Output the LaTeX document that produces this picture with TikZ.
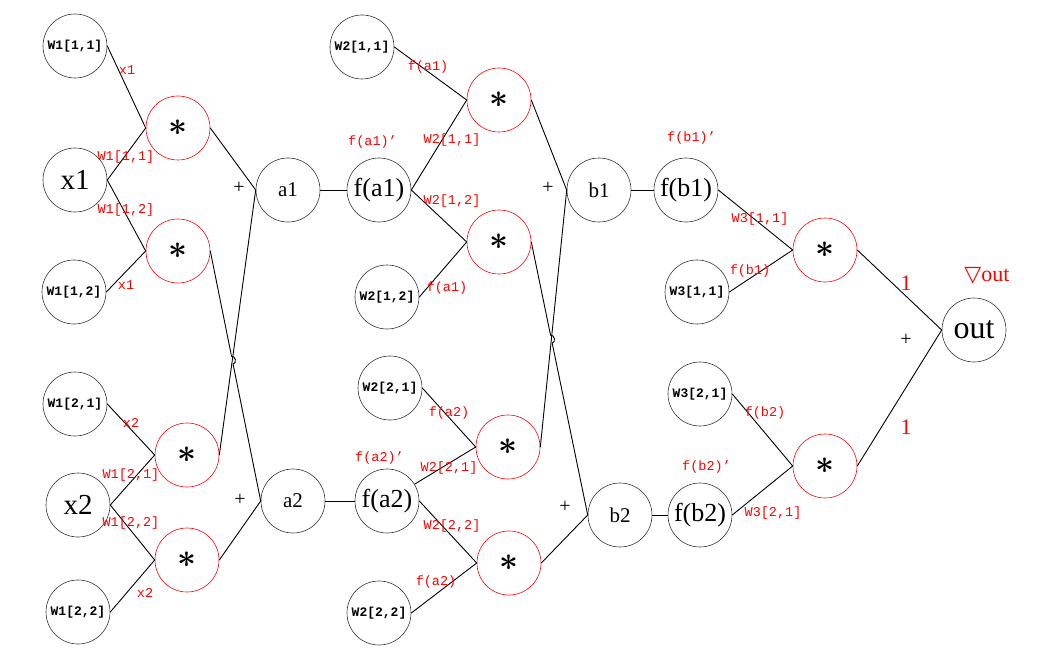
\documentclass[tikz,border=0pt]{standalone}
\usepackage{fontspec}
\usepackage{graphicx}
\setmainfont{Liberation Serif}
\newfontfamily\monof{Liberation Mono}
\newfontfamily\symf{DejaVu Sans}
\usetikzlibrary{intersections,calc}
\newcommand{\wtxt}{\monof\bfseries\fontsize{13}{13}\selectfont}
\newcommand{\bigtxt}{\fontsize{29}{29}\selectfont}
\newcommand{\midtxt}{\fontsize{21}{21}\selectfont}
\newcommand{\ftxt}{\fontsize{26}{26}\selectfont}
\newcommand{\asttxt}{\scalebox{3.3}{\boldmath$\ast$}}
\begin{document}
\begin{tikzpicture}[x=1pt,y=-1pt,
  circ/.style={circle, draw=black!80, line width=0.6pt, minimum size=64pt, inner sep=0pt},
  mul/.style={circ, draw=red},
  lab/.style={text=red, font=\monof\fontsize{13.5}{13.5}\selectfont, inner sep=0pt},
  plus/.style={font=\fontsize{20}{20}\selectfont, inner sep=0pt},
  one/.style={text=red, font=\fontsize{22}{22}\selectfont, inner sep=0pt},
  edge/.style={line width=0.9pt, black},
  hop/.style={bend left=90, looseness=1.3}]
\useasboundingbox (0,0) rectangle (1051,663);
% layer 1
\node[circ] (w111) at (75,46) {\wtxt W1[1,1]};
\node[circ] (x1) at (75,180) {\bigtxt x1};
\node[circ] (w112) at (74,292) {\wtxt W1[1,2]};
\node[mul] (m111) at (178,128) {\asttxt};
\node[mul] (m112) at (178,251) {\asttxt};
\node[circ] (a1) at (288,190) {\midtxt a1};
\node[circ] (w121) at (75,404) {\wtxt W1[2,1]};
\node[circ] (x2) at (78,505) {\bigtxt x2};
\node[circ] (w122) at (78,612) {\wtxt W1[2,2]};
\node[mul] (m121) at (187,455) {\asttxt};
\node[mul] (m122) at (187,560) {\asttxt};
\node[circ] (a2) at (293,501) {\midtxt a2};
% layer 2
\node[circ] (w211) at (362,47) {\wtxt W2[1,1]};
\node[circ] (fa1) at (379,190) {\ftxt f(a1)};
\node[circ] (w212) at (387,297) {\wtxt W2[1,2]};
\node[mul] (m211) at (499,100) {\asttxt};
\node[mul] (m212) at (499,242) {\asttxt};
\node[circ] (b1) at (599,190) {\midtxt b1};
\node[circ] (w221) at (390,388) {\wtxt W2[2,1]};
\node[circ] (fa2) at (387,501) {\ftxt f(a2)};
\node[circ] (w222) at (379,613) {\wtxt W2[2,2]};
\node[mul] (m221) at (508,447) {\asttxt};
\node[mul] (m222) at (509,563) {\asttxt};
\node[circ] (b2) at (620,515) {\midtxt b2};
% layer 3
\node[circ] (fb1) at (686,190) {\ftxt f(b1)};
\node[circ] (w311) at (697,292) {\wtxt W3[1,1]};
\node[mul] (m31) at (825,250) {\asttxt};
\node[circ] (w321) at (700,394) {\wtxt W3[2,1]};
\node[circ] (fb2) at (700,515) {\ftxt f(b2)};
\node[mul] (m32) at (825,466) {\asttxt};
\node[circ] (out) at (974,330) {\fontsize{32}{32}\selectfont out};
% edges layer 1
\draw[edge] (w111.east) -- (m111.west);
\draw[edge] (x1.east) -- (m111.west);
\draw[edge] (x1.east) -- (m112.west);
\draw[edge] (w112.east) -- (m112.west);
\draw[edge] (w121.east) -- (m121.west);
\draw[edge] (x2.east) -- (m121.west);
\draw[edge] (x2.east) -- (m122.west);
\draw[edge] (w122.east) -- (m122.west);
\draw[edge] (m111.east) -- (a1.west);
\draw[edge] (m121.east) -- (a1.west);
\draw[edge] (m122.east) -- (a2.west);
\path[name path=pA] (m112.east) -- (a2.west);
\path[name path=pB] (m121.east) -- (a1.west);
\path[name intersections={of=pA and pB, by=X1}];
\draw[edge] (m112.east) -- ($(X1)!4pt!(m112.east)$) to[hop] ($(X1)!4pt!(a2.west)$) -- (a2.west);
\draw[edge] (a1.east) -- (fa1.west);
\draw[edge] (a2.east) -- (fa2.west);
% edges layer 2
\draw[edge] (w211.east) -- (m211.west);
\draw[edge] (fa1.east) -- (m211.west);
\draw[edge] (fa1.east) -- (m212.west);
\draw[edge] (w212.east) -- (m212.west);
\draw[edge] (w221.east) -- (m221.west);
\draw[edge] (fa2) -- (m221.west);
\draw[edge] (fa2.east) -- (m222.west);
\draw[edge] (w222.east) -- (m222.west);
\draw[edge] (m211.east) -- (b1.west);
\draw[edge] (m221.east) -- (b1.west);
\draw[edge] (m222.east) -- (b2.west);
\path[name path=pC] (m212.east) -- (b2.west);
\path[name path=pD] (m221.east) -- (b1.west);
\path[name intersections={of=pC and pD, by=X2}];
\draw[edge] (m212.east) -- ($(X2)!4pt!(m212.east)$) to[hop] ($(X2)!4pt!(b2.west)$) -- (b2.west);
\draw[edge] (b1.east) -- (fb1.west);
\draw[edge] (b2.east) -- (fb2.west);
% edges layer 3
\draw[edge] (fb1.east) -- (m31.west);
\draw[edge] (w311.east) -- (m31.west);
\draw[edge] (w321.east) -- (m32.west);
\draw[edge] (fb2.east) -- (m32.west);
\draw[edge] (m31.east) -- (out.west);
\draw[edge] (m32.east) -- (out.west);
% labels layer 1
\node[lab] (l1) at (127,70) {x1};
\node[lab] (l2) at (126,157) {W1[1,1]};
\node[lab] (l3) at (126,210) {W1[1,2]};
\node[lab] (l4) at (126,285) {x1};
\node[lab] (l5) at (131,423) {x2};
\node[lab] (l6) at (131,475) {W1[2,1]};
\node[lab] (l7) at (131,523) {W1[2,2]};
\node[lab] (l8) at (145,593) {x2};
\node[plus] (p1) at (239,188) {+};
\node[plus] (p2) at (240,500) {+};
% labels layer 2
\node[lab] (l9) at (428,67) {f(a1)};
\node[lab, anchor=west] (l10) at (348,142) {f(a1)’};
\node[lab] (l11) at (452,140) {W2[1,1]};
\node[lab] (l12) at (452,201) {W2[1,2]};
\node[lab] (l13) at (447,288) {f(a1)};
\node[lab] (l14) at (449,413) {f(a2)};
\node[lab, anchor=west] (l15) at (355,458) {f(a2)’};
\node[lab] (l16) at (449,468) {W2[2,1]};
\node[lab] (l17) at (452,526) {W2[2,2]};
\node[lab] (l18) at (436,582) {f(a2)};
\node[plus] (p3) at (548,188) {+};
\node[plus] (p4) at (565,507) {+};
% labels layer 3
\node[lab, anchor=west] (l19) at (667,138) {f(b1)’};
\node[lab] (l20) at (760,219) {W3[1,1]};
\node[lab] (l21) at (750,271) {f(b1)};
\node[lab] (l22) at (765,413) {f(b2)};
\node[lab, anchor=west] (l23) at (682,467) {f(b2)’};
\node[lab] (l24) at (773,513) {W3[2,1]};
\node[one] (o1) at (906,283) {1};
\node[one] (o2) at (906,427) {1};
\node[plus] (p5) at (906,340) {+};
\node[text=red, inner sep=0pt] (grad) at (987,276) {{\symf\fontsize{22}{22}\selectfont ▽}{\fontsize{22}{22}\selectfont out}};
\end{tikzpicture}
\end{document}
